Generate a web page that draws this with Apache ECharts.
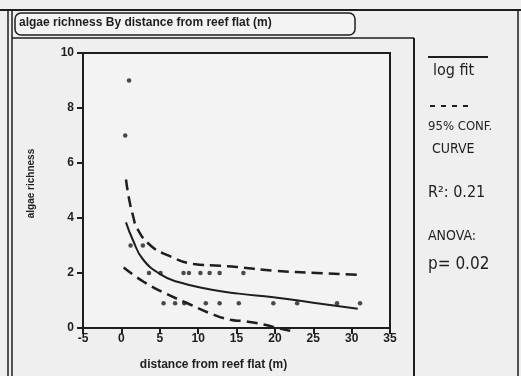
<!DOCTYPE html>
<html>
<head>
<meta charset="utf-8">
<script src="https://cdn.jsdelivr.net/npm/echarts@6/dist/echarts.min.js"></script>
<style>
  html, body { margin: 0; padding: 0; background: #efefef; }
  #chart { width: 521px; height: 376px; }
</style>
</head>
<body>
<div id="chart"></div>
<script>
// observed points (distance, richness)
var obsX = [0.5, 1, 1.2, 2.8, 3.6, 5.1, 8.1, 8.8, 10.3, 11.5, 12.8, 15.9,
            5.5, 7, 8.2, 11, 12.8, 15.3, 19.8, 22.9, 28.1, 31.1];
var obsY = [7, 9, 3, 3, 2, 2, 2, 2, 2, 2, 2, 2,
            0.9, 0.9, 0.9, 0.9, 0.9, 0.9, 0.9, 0.9, 0.9, 0.9];

// log fit
var fitX = [0.6, 1.5, 2.8, 5.1, 7.3, 11.6, 15.3, 19.8, 25, 30.8];
var fitY = [3.84, 3.2, 2.5, 1.95, 1.68, 1.4, 1.25, 1.12, 0.92, 0.7];

// 95% confidence curves
var upX = [0.6, 1, 1.5, 2.1, 3.8, 6, 9.4, 12.9, 15, 20, 25.5, 31];
var upY = [5.4, 4.7, 4.1, 3.6, 3.0, 2.65, 2.33, 2.26, 2.22, 2.08, 2.0, 1.93];
var loX = [0.3, 2.9, 5.8, 8.6, 11.6, 14.2, 15.9, 18.5, 20.3, 22];
var loY = [2.2, 1.68, 1.25, 0.9, 0.53, 0.3, 0.25, 0.13, 0, -0.1];

function pairs(xs, ys) {
  var out = [];
  for (var i = 0; i < xs.length; i++) out.push([xs[i], ys[i]]);
  return out;
}

var ink = '#1e1e1e';
var hand = '15px "DejaVu Sans Condensed"';
var chart = echarts.init(document.getElementById('chart'));

var option = {
  backgroundColor: '#efefef',
  animation: false,
  grid: {
    left: 83, right: 131, top: 53, bottom: 44,
    show: true, borderColor: ink, borderWidth: 2, backgroundColor: '#f3f3f3'
  },
  xAxis: {
    type: 'value', min: -5, max: 35, interval: 5,
    name: 'distance from reef flat (m)',
    nameLocation: 'middle', nameGap: 31,
    nameTextStyle: { color: ink, fontSize: 12, fontFamily: 'Liberation Sans', fontWeight: 'bold', padding: [0, 46, 0, 0] },
    axisLine: { onZero: false, lineStyle: { color: ink, width: 2 } },
    axisTick: { length: 6, lineStyle: { color: ink, width: 2 } },
    axisLabel: { color: ink, fontSize: 12, fontFamily: 'Liberation Sans', fontWeight: 'bold', margin: 5 },
    splitLine: { show: false }
  },
  yAxis: {
    type: 'value', min: 0, max: 10, interval: 2,
    name: 'algae richness',
    nameLocation: 'middle', nameGap: 47,
    nameTextStyle: { color: ink, fontSize: 10, fontFamily: 'Liberation Sans', fontWeight: 'bold', padding: [0, 0, 0, 14] },
    axisLine: { onZero: false, lineStyle: { color: ink, width: 2 } },
    axisTick: { length: 6, lineStyle: { color: ink, width: 2 } },
    axisLabel: { color: ink, fontSize: 12, fontFamily: 'Liberation Sans', fontWeight: 'bold', margin: 9 },
    splitLine: { show: false }
  },
  series: [
    {
      name: 'observed', type: 'scatter', data: pairs(obsX, obsY),
      symbol: 'circle', symbolSize: 4.5, itemStyle: { color: ink }
    },
    {
      name: 'log fit', type: 'line', data: pairs(fitX, fitY), smooth: true,
      showSymbol: false, lineStyle: { color: ink, width: 2 }
    },
    {
      name: 'upper', type: 'line', data: pairs(upX, upY), smooth: true,
      showSymbol: false, lineStyle: { color: ink, width: 2.5, type: [11, 6] }
    },
    {
      name: 'lower', type: 'line', data: pairs(loX, loY), smooth: true, clip: false,
      showSymbol: false, lineStyle: { color: ink, width: 2.5, type: [11, 6] }
    }
  ],
  graphic: [
    // outer frame
    { type: 'line', shape: { x1: 0, y1: 10, x2: 521, y2: 10 }, style: { stroke: ink, lineWidth: 2 } },
    { type: 'line', shape: { x1: 8, y1: 10, x2: 8, y2: 376 }, style: { stroke: ink, lineWidth: 1.5 } },
    { type: 'line', shape: { x1: 12, y1: 10, x2: 12, y2: 376 }, style: { stroke: ink, lineWidth: 1.5 } },
    { type: 'line', shape: { x1: 12, y1: 38, x2: 414, y2: 38 }, style: { stroke: ink, lineWidth: 1.5 } },
    { type: 'line', shape: { x1: 414, y1: 38, x2: 414, y2: 376 }, style: { stroke: ink, lineWidth: 2 } },
    { type: 'line', shape: { x1: 518, y1: 10, x2: 518, y2: 376 }, style: { stroke: ink, lineWidth: 1.5 } },
    // title box
    { type: 'rect', shape: { x: 15, y: 13, width: 340, height: 22, r: 6 }, style: { fill: '#f3f3f3', stroke: ink, lineWidth: 1.5 } },
    { type: 'text', left: 19, top: 17, style: { text: 'algae richness By distance from reef flat (m)', fill: ink, font: 'bold 12px "Liberation Sans"' } },
    // hand-written legend panel
    { type: 'line', shape: { x1: 428, y1: 57, x2: 488, y2: 57 }, style: { stroke: ink, lineWidth: 2 } },
    { type: 'text', left: 433, top: 63, style: { text: 'log fit', fill: ink, font: '16px "DejaVu Sans Condensed"' } },
    { type: 'line', shape: { x1: 430, y1: 106, x2: 474, y2: 106 }, style: { stroke: ink, lineWidth: 2, lineDash: [5, 6] } },
    { type: 'text', left: 428, top: 120, style: { text: '95% CONF.', fill: ink, font: '13px "DejaVu Sans Condensed"' } },
    { type: 'text', left: 432, top: 142, style: { text: 'CURVE', fill: ink, font: '14px "DejaVu Sans Condensed"' } },
    { type: 'text', left: 428, top: 185, style: { text: 'R\u00b2: 0.21', fill: ink, font: '16px "DejaVu Sans Condensed"' } },
    { type: 'text', left: 428, top: 229, style: { text: 'ANOVA:', fill: ink, font: '14px "DejaVu Sans Condensed"' } },
    { type: 'text', left: 428, top: 256, style: { text: 'p= 0.02', fill: ink, font: '17px "DejaVu Sans Condensed"' } }
  ]
};

chart.setOption(option);
</script>
</body>
</html>
